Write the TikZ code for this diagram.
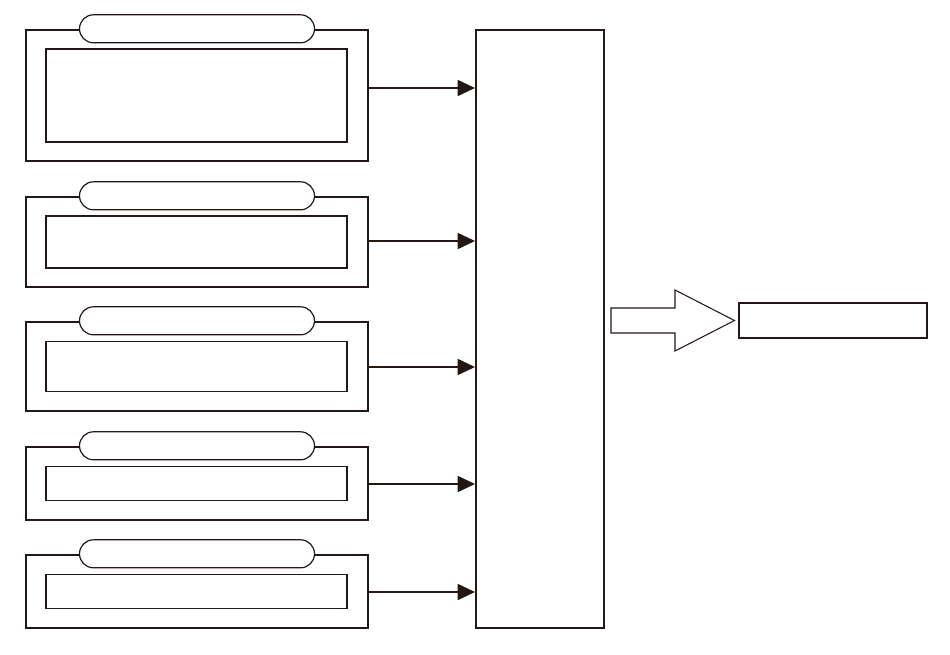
\documentclass[tikz,border=0pt]{standalone}
\usepackage{tikz}
\usepackage{xcolor}
\usetikzlibrary{arrows.meta,positioning,calc}
\definecolor{inkbrown}{HTML}{231815}

\tikzset{
  outerbox/.style={draw=inkbrown,line width=1.8pt,minimum width=256.5pt,inner sep=0pt},
  innerbox/.style={draw=inkbrown,line width=.8pt,minimum width=225.75pt,inner sep=0pt},
  pillbox/.style={draw=inkbrown,fill=white,line width=.9pt,rounded corners=10.5pt,
    minimum width=176.25pt,minimum height=21pt,inner sep=0pt},
  busbox/.style={draw=inkbrown,line width=1.5pt,minimum width=96pt,minimum height=448.5pt,inner sep=0pt},
  outbox/.style={draw=inkbrown,line width=.8pt,minimum width=141pt,minimum height=26.25pt,inner sep=0pt},
  feed/.style={draw=inkbrown,line width=1.3pt,-{Triangle[length=13pt,width=12pt]}}
}

\begin{document}
\begin{tikzpicture}[x=.75pt,y=-.75pt]
\useasboundingbox (0,0) rectangle (950,654);
\node[busbox] (bus) at (540,329) {};
% input groups
\foreach \i/\yc/\ho/\hi/\ay in {1/95.5/98.25/69.75/88,2/242/67.5/39/241,3/366.5/66.75/37.5/367,4/483.5/54.75/25.5/484,5/591.5/54.75/25.5/592} {
  \node[outerbox,minimum height=\ho pt] (o\i) at (197,\yc) {};
  \node[innerbox,minimum height=\hi pt] (in\i) at (196.5,\yc) {};
  \node[pillbox] (p\i) at (o\i.north) {};
  \coordinate (a\i) at (368,\ay);
  \draw[feed] (a\i) -- (bus.west |- a\i);
}
% output
\node[outbox] (res) at (833,320.5) {};
\coordinate (tip) at ($(res.west)+(-4,0)$);
\draw[inkbrown,line width=.8pt,line join=miter]
  (611,308) -- (675,308) -- (675,290) -- (tip) -- (675,351) -- (675,333) -- (611,333) -- cycle;
\end{tikzpicture}
\end{document}
